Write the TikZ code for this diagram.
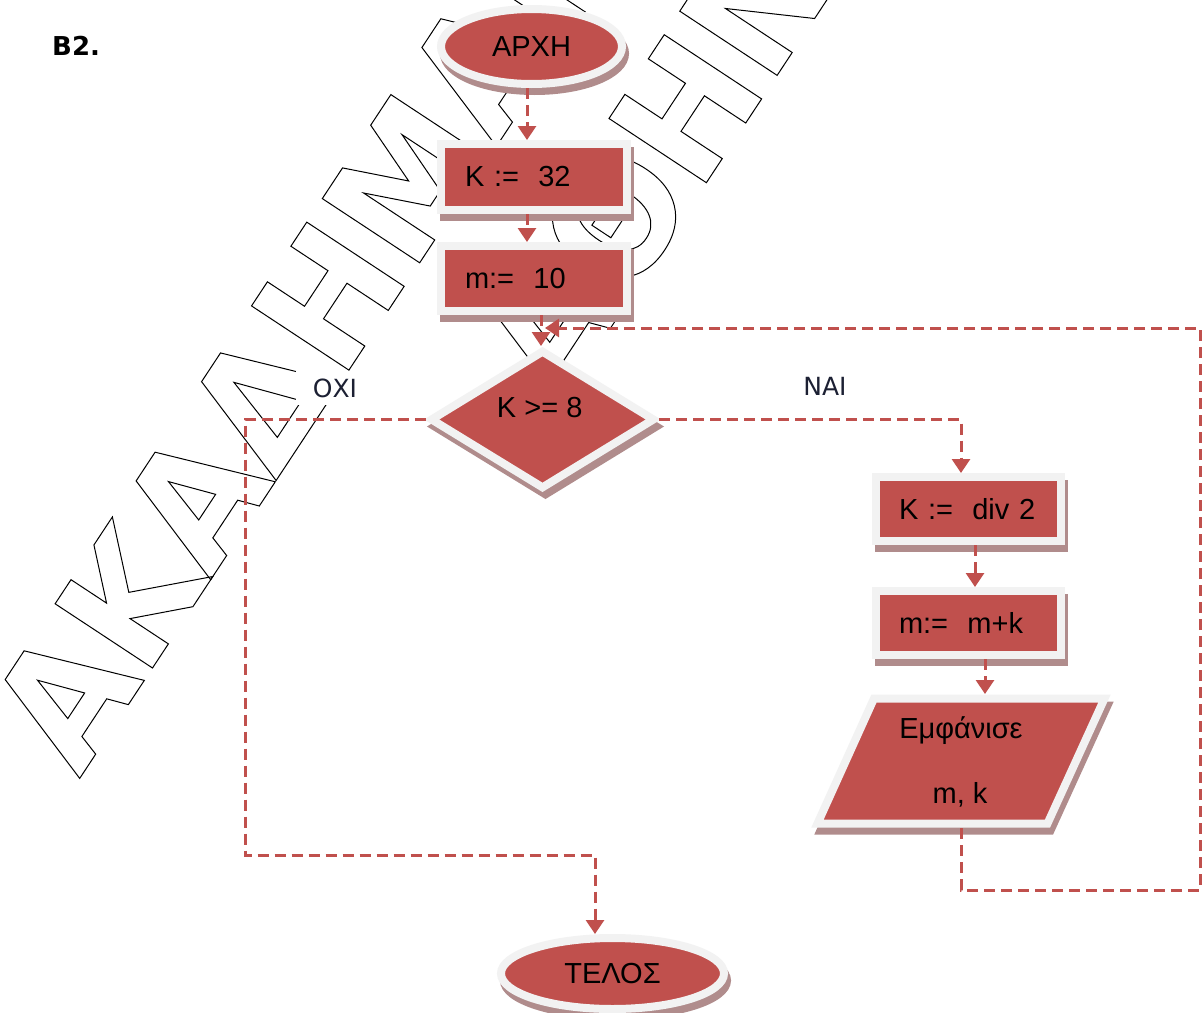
\documentclass[tikz,border=0pt]{standalone}
\usepackage{fontspec}
\setmainfont{Liberation Sans}
\newfontfamily\djv{DejaVu Sans}
\newfontfamily\wmfont{DejaVu Sans}[FakeStretch=0.96]
\usetikzlibrary{arrows.meta,shapes.geometric,shadows}
\definecolor{fc}{HTML}{C0504D}
\definecolor{bc}{HTML}{F2F2F2}
\definecolor{shc}{HTML}{B08C8C}
\definecolor{lblc}{HTML}{1C2033}
\newcommand{\mainf}{\fontsize{29}{34}\selectfont}
\newcommand{\outlinetext}[1]{\special{pdf:literal direct 1 Tr 0 0 0 RG 1 w}#1\special{pdf:literal direct 0 Tr}}
\begin{document}
\begin{tikzpicture}[x=1pt,y=-1pt,
  box/.style={draw=bc, fill=fc, line width=8pt, inner sep=0pt,
    general shadow={shadow xshift=3pt, shadow yshift=-7pt, fill=shc, draw=shc, line width=8pt}},
  rbox/.style={box, rectangle, minimum width=186pt, minimum height=65pt, text width=138pt,
    inner xsep=24pt, inner ysep=0pt, align=left, font=\mainf},
  term/.style={box, ellipse, font=\mainf},
  dia/.style={box, diamond, minimum width=225pt, minimum height=139pt},
  txt/.style={font=\mainf, anchor=base, inner sep=0pt},
  lbl/.style={font=\djv\fontsize{25}{28}\selectfont, text=lblc, fill=white,
    inner xsep=17pt, inner ysep=8pt},
  wm/.style={anchor=base west, rotate=56.6, inner sep=0pt, outer sep=0pt,
    font=\wmfont\bfseries\fontsize{160}{160}\selectfont},
  conn/.style={draw=fc, line width=3pt, dash pattern=on 11pt off 6pt,
    -{Triangle[width=18pt,length=14pt]}}
]
\fill[white] (0,0) rectangle (1202,1012);
\useasboundingbox (0,0) rectangle (1202,1012);

% watermark
\node[wm] (wm1) at (79.3,779) {\outlinetext{ΑΚΑΔΗΜΑΪΚΟ}};
\node[wm] (wm2) at (561.3,402.7) {\outlinetext{ΑΘΗΝΑ}};

% title
\node[font=\djv\bfseries\fontsize{26}{30}\selectfont, anchor=base west, inner sep=0pt] (title) at (52,55) {B2.};

% labels
\node[lbl] (no) at (335,388) {ΟΧΙ};
\node[lbl] (yes) at (825,386) {ΝΑΙ};

% flowchart nodes
\node[term, minimum width=181pt, minimum height=75pt] (start) at (531.5,46.5) {ΑΡΧΗ};
\node[rbox, minimum height=66pt] (k32) at (534,177) {K :=~~32};
\node[rbox] (m10) at (534,278.5) {m:=~~10};
\node[dia] (cond) at (542.5,419.5) {};
\node[txt] (condt) at (539.7,417.3) {K >= 8};
\node[rbox, minimum width=185pt, text width=139pt, inner xsep=23pt, minimum height=64pt] (kdiv) at (968.5,509) {K :=~~div 2};
\node[rbox, minimum width=185pt, text width=139pt, inner xsep=23pt, minimum height=64pt] (mk) at (968.5,623) {m:=~~m+k};
\draw[box] (874,698.5) -- (1104.5,698.5) -- (1047.5,823.5) -- (817.5,823.5) -- cycle;
\node[txt] (outa) at (961,738) {Εμφάνισε};
\node[txt] (outb) at (960,803) {m, k};
\node[term, minimum width=223pt, minimum height=71pt] (end) at (612.5,973.5) {ΤΕΛΟΣ};

% coordinates
\coordinate (nl) at (245,855);
\coordinate (outtop) at (985,694);
\coordinate (outbot) at (961,828);
\coordinate (lr) at (1200,890);
\coordinate (join) at (545,328);

% connectors
\draw[conn] ([xshift=-4.5pt]start.south) -- ([xshift=-7pt]k32.north);
\draw[conn] ([xshift=-7pt]k32.south) -- ([xshift=-7pt]m10.north);
\draw[conn] ([xshift=7pt]m10.south) -- ([xshift=7pt]m10.south |- cond.north);
\draw[conn] (cond.east) -| ([xshift=-7.5pt]kdiv.north);
\draw[conn] (cond.west) -| (nl) -| ([xshift=-17.5pt]end.north);
\draw[conn] ([xshift=6.5pt]kdiv.south) -- ([xshift=6.5pt]mk.north);
\draw[conn] ([xshift=16.5pt]mk.south) -- (outtop);
\draw[conn] (outbot) |- (lr) |- (join);
\end{tikzpicture}
\end{document}
